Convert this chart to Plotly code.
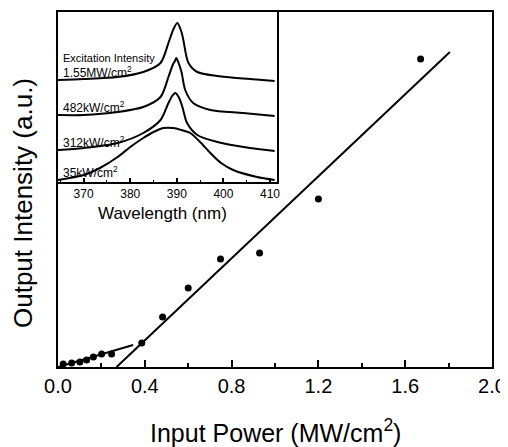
import plotly.graph_objects as go

# ---- main data: output intensity vs input power ----
power = [0.024, 0.063, 0.101, 0.132, 0.163, 0.201, 0.247, 0.386, 0.482, 0.600, 0.749, 0.929, 1.200, 1.671]
intensity = [3, 4, 5, 7, 10, 13, 13, 24, 50, 79, 108, 114, 168, 308]

fit_hi_x = [0.27, 1.806]
fit_hi_y = [0, 315]
fit_lo_x = [0.0, 0.346]
fit_lo_y = [0, 22]

# ---- inset spectra (stacked, arbitrary units) ----
wl_top = [364.4, 370.0, 377.3, 382.8, 386.5, 388.2, 389.2, 390.1, 391.0, 391.4, 392.5, 394.4, 398.7, 405.7, 411.0]
sp_top = [102, 103, 105, 110, 119, 139, 152, 159, 150, 142, 119, 110, 106, 103, 101]

wl_482 = [364.4, 370.0, 377.3, 382.8, 386.5, 388.2, 389.2, 389.6, 389.9, 390.3, 391.0, 391.8, 393.5, 397.2, 404.2, 411.0]
sp_482 = [67, 67, 70, 75, 85, 105, 118, 121, 124, 120, 110, 92, 79, 72, 69, 66]

wl_312 = [364.4, 370.0, 377.3, 382.8, 386.5, 388.2, 389.0, 389.7, 390.5, 391.2, 392.2, 394.4, 398.7, 405.7, 411.0]
sp_312 = [32, 34, 39, 49, 62, 79, 86, 89, 84, 75, 59, 47, 40, 34, 31]

wl_35 = [364.4, 370.0, 373.5, 377.3, 380.0, 382.8, 385.0, 387.1, 389.25, 391.0, 392.9, 395.0, 397.2, 399.5, 402.1, 407.2, 411.0]
sp_35 = [2, 7, 14, 25, 35, 44, 50, 54, 54, 52, 49, 40, 29, 19, 12, 5, 2]

spec_labels = ["1.55MW/cm<sup>2</sup>", "482kW/cm<sup>2</sup>", "312kW/cm<sup>2</sup>", "35kW/cm<sup>2</sup>"]
spec_label_y = [110, 75, 40, 10]

main_ticks = [0.0, 0.4, 0.8, 1.2, 1.6, 2.0]
inset_ticks = [370, 380, 390, 400, 410]

FONT = "Liberation Sans, Arial, sans-serif"

# page body has an 8px margin, so the figure is laid out offset by 8px
OFF = 8
W, H = 500, 439
ML, MR, MT = 58 - OFF, 16, 12 - OFF
MB = H - (367 - OFF)

fig = go.Figure()

line_style = dict(color="black", width=2)

fig.add_trace(go.Scatter(x=fit_hi_x, y=fit_hi_y, mode="lines", line=line_style,
                         xaxis="x", yaxis="y", showlegend=False))
fig.add_trace(go.Scatter(x=fit_lo_x, y=fit_lo_y, mode="lines", line=line_style,
                         xaxis="x", yaxis="y", showlegend=False))
fig.add_trace(go.Scatter(x=power, y=intensity, mode="markers",
                         marker=dict(color="black", size=7),
                         xaxis="x", yaxis="y", showlegend=False))

for wl, sp in [(wl_top, sp_top), (wl_482, sp_482), (wl_312, sp_312), (wl_35, sp_35)]:
    fig.add_trace(go.Scatter(x=wl, y=sp, mode="lines",
                             line=dict(color="black", width=2, shape="spline", smoothing=0.8),
                             xaxis="x2", yaxis="y2", showlegend=False))

def px_x(sx):
    return (sx - OFF - ML) / (W - ML - MR)

def px_y(sy):
    return (H - MB - (sy - OFF)) / (H - MT - MB)

annotations = [
    dict(text="Excitation Intensity", x=365.2, y=124, xref="x2", yref="y2",
         xanchor="left", yanchor="middle", showarrow=False,
         font=dict(family=FONT, size=11, color="black")),
    dict(text="Input Power (MW/cm<sup>2</sup>)", x=px_x(275), y=px_y(431), xref="paper", yref="paper",
         xanchor="center", yanchor="middle", showarrow=False,
         font=dict(family=FONT, size=25, color="black")),
    dict(text="Output Intensity (a.u.)", x=px_x(23), y=px_y(203), xref="paper", yref="paper",
         xanchor="center", yanchor="middle", showarrow=False, textangle=-90,
         font=dict(family=FONT, size=26, color="black")),
    dict(text="Wavelength (nm)", x=px_x(162), y=px_y(213), xref="paper", yref="paper",
         xanchor="center", yanchor="middle", showarrow=False,
         font=dict(family=FONT, size=17, color="black")),
]
for lab, yy in zip(spec_labels, spec_label_y):
    annotations.append(dict(text=lab, x=365.2, y=yy, xref="x2", yref="y2",
                            xanchor="left", yanchor="middle", showarrow=False,
                            font=dict(family=FONT, size=12, color="black")))

fig.update_layout(
    width=W, height=H,
    margin=dict(l=ML, r=MR, t=MT, b=MB, autoexpand=False),
    plot_bgcolor="white", paper_bgcolor="white",
    font=dict(family=FONT, color="black"),
    xaxis=dict(domain=[0, 1], range=[0, 2.0], tickvals=main_ticks,
               ticktext=[f"{v:.1f}" for v in main_ticks],
               ticks="inside", ticklen=7, tickwidth=2, tickcolor="black",
               minor=dict(dtick=0.2, ticks="inside", ticklen=4, tickwidth=1.5, tickcolor="black"),
               showline=True, linewidth=2, linecolor="black", mirror=True,
               showgrid=False, zeroline=False, automargin=False,
               tickfont=dict(size=20, family=FONT)),
    yaxis=dict(domain=[0, 1], range=[0, 355], showticklabels=False, ticks="",
               showline=True, linewidth=2, linecolor="black", mirror=True,
               showgrid=False, zeroline=False, automargin=False),
    xaxis2=dict(domain=[0, px_x(277)], anchor="y2", range=[364.5, 411.5],
                tickvals=inset_ticks, ticks="inside", ticklen=4, tickwidth=1.5, tickcolor="black",
                minor=dict(dtick=5, ticks="inside", ticklen=2, tickwidth=1, tickcolor="black"),
                showline=True, linewidth=1.5, linecolor="black", mirror=True,
                showgrid=False, zeroline=False, automargin=False,
                tickfont=dict(size=12, family=FONT)),
    yaxis2=dict(domain=[px_y(182), 1], anchor="x2", range=[0, 170], showticklabels=False, ticks="",
                showline=True, linewidth=1.5, linecolor="black", mirror=True,
                showgrid=False, zeroline=False, automargin=False),
    annotations=annotations,
)

fig.write_html("out.html")
